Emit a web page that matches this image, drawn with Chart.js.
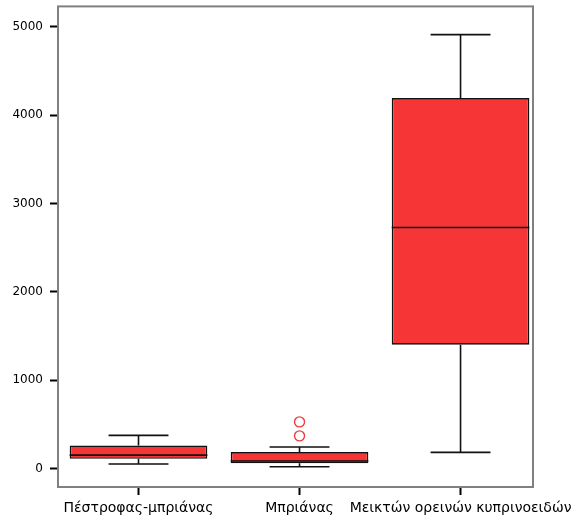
<!DOCTYPE html>
<html>
<head>
<meta charset="utf-8">
<script src="https://cdn.jsdelivr.net/npm/chart.js@4/dist/chart.umd.min.js"></script>
<style>
  html, body { margin: 0; padding: 0; background: #ffffff; }
  #wrap { width: 573px; height: 525px; }
</style>
</head>
<body>
<div id="wrap"><canvas id="c" width="573" height="525"></canvas></div>
<script>
// Box-plot summary per group
const categories = ['Πέστροφας-μπριάνας', 'Μπριάνας', 'Μεικτών ορεινών κυπρινοειδών'];
const whiskerLow  = [51, 20, 183];
const q1          = [111, 59, 1402];
const median      = [152, 85, 2729];
const q3          = [262, 186, 4193];
const whiskerHigh = [375, 243, 4912];

// Outliers (group index, value)
const outlierGroup = [1, 1];
const outlierValue = [528, 370];

const yTicks = [0, 1000, 2000, 3000, 4000, 5000];

const X_FONT = { family: 'DejaVu Sans, sans-serif', size: 14 };
const Y_FONT = { family: 'DejaVu Sans, sans-serif', size: 12 };
const CAP_HALF = 0.186; // half width of whisker caps, in group units

const boxData = categories.map((c, i) => ({ x: i, y: [q1[i], q3[i]] }));
const outlierData = outlierGroup.map((g, i) => ({ x: g, y: outlierValue[i] }));

// Medians, whiskers and the plot frame
const boxExtras = {
  id: 'boxExtras',
  afterDatasetsDraw(chart) {
    const { ctx, scales: { x, y }, chartArea } = chart;
    const meta = chart.getDatasetMeta(0);
    ctx.save();
    ctx.strokeStyle = '#111111';
    ctx.lineWidth = 1.6;
    categories.forEach((c, i) => {
      const bar = meta.data[i];
      const half = bar.width / 2;
      const cx = x.getPixelForValue(i);
      const yQ1 = y.getPixelForValue(q1[i]);
      const yQ3 = y.getPixelForValue(q3[i]);
      const yMed = y.getPixelForValue(median[i]);
      const yLo = y.getPixelForValue(whiskerLow[i]);
      const yHi = y.getPixelForValue(whiskerHigh[i]);
      const capL = x.getPixelForValue(i - CAP_HALF);
      const capR = x.getPixelForValue(i + CAP_HALF);
      ctx.beginPath();
      // median
      ctx.moveTo(cx - half, yMed); ctx.lineTo(cx + half, yMed);
      // upper whisker
      ctx.moveTo(cx, yQ3); ctx.lineTo(cx, yHi);
      ctx.moveTo(capL, yHi); ctx.lineTo(capR, yHi);
      // lower whisker
      ctx.moveTo(cx, yQ1); ctx.lineTo(cx, yLo);
      ctx.moveTo(capL, yLo); ctx.lineTo(capR, yLo);
      ctx.stroke();
    });
    // frame
    ctx.strokeStyle = '#808080';
    ctx.lineWidth = 2;
    ctx.strokeRect(chartArea.left, chartArea.top,
                   chartArea.right - chartArea.left, chartArea.bottom - chartArea.top);
    ctx.restore();
  }
};

const bgPlugin = {
  id: 'bg',
  beforeDraw(chart) {
    const { ctx, width, height } = chart;
    ctx.save();
    ctx.fillStyle = '#ffffff';
    ctx.fillRect(0, 0, width, height);
    ctx.restore();
  }
};

new Chart(document.getElementById('c'), {
  type: 'bar',
  data: {
    datasets: [
      {
        type: 'bar',
        data: boxData,
        backgroundColor: '#f63636',
        borderColor: '#111111',
        borderWidth: 1.6,
        borderSkipped: false,
        categoryPercentage: 1,
        barPercentage: 0.855,
        order: 2
      },
      {
        type: 'scatter',
        data: outlierData,
        pointStyle: 'circle',
        pointRadius: 5,
        pointBorderWidth: 1.4,
        pointBorderColor: '#f23a3a',
        pointBackgroundColor: 'rgba(255,255,255,0)',
        order: 1
      }
    ]
  },
  options: {
    responsive: false,
    animation: false,
    events: [],
    layout: { padding: { top: 5, right: 40, left: 0, bottom: 0 } },
    plugins: { legend: { display: false }, tooltip: { enabled: false } },
    scales: {
      x: {
        type: 'linear',
        min: -0.5,
        max: 2.45,
        offset: false,
        afterBuildTicks(scale) { scale.ticks = categories.map((c, i) => ({ value: i })); },
        afterFit(scale) {
          scale.height = 38;
          scale.paddingLeft = 0;
          scale.paddingRight = 0;
        },
        ticks: {
          callback: (v) => categories[v],
          color: '#000000',
          font: X_FONT,
          padding: 5,
          maxRotation: 0,
          autoSkip: false
        },
        grid: {
          offset: false,
          drawOnChartArea: false,
          drawTicks: true,
          tickLength: 8,
          tickWidth: 2,
          tickColor: '#000000'
        },
        border: { display: false }
      },
      y: {
        type: 'linear',
        min: -209,
        max: 5231,
        afterBuildTicks(scale) { scale.ticks = yTicks.map(v => ({ value: v })); },
        afterFit(scale) {
          scale.width = 58;
          scale.paddingTop = 0;
          scale.paddingBottom = 0;
        },
        ticks: {
          color: '#000000',
          font: Y_FONT,
          padding: 7,
          callback: (v) => String(v)
        },
        grid: {
          drawOnChartArea: false,
          drawTicks: true,
          tickLength: 8,
          tickWidth: 2,
          tickColor: '#000000'
        },
        border: { display: false }
      }
    }
  },
  plugins: [bgPlugin, boxExtras]
});
</script>
</body>
</html>
